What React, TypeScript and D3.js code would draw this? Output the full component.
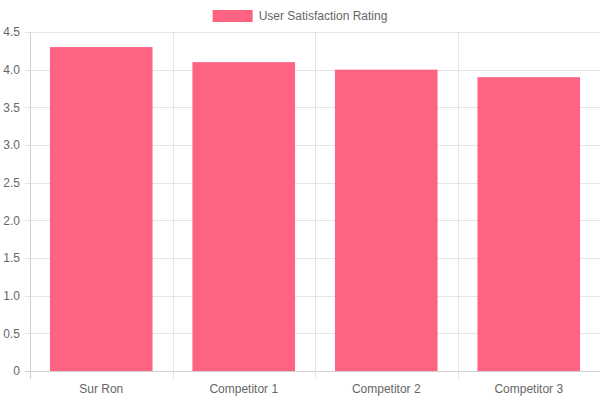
import React, { useEffect, useRef } from 'react';
import * as d3 from 'd3';

const categories = ['Sur Ron', 'Competitor 1', 'Competitor 2', 'Competitor 3'];
const ratings = [4.3, 4.1, 4.0, 3.9];
const yTicks = [0, 0.5, 1, 1.5, 2, 2.5, 3, 3.5, 4, 4.5];
const seriesName = 'User Satisfaction Rating';

const BarChart: React.FC = () => {
  const svgRef = useRef<SVGSVGElement>(null);

  useEffect(() => {
    if (!svgRef.current) return;
    document.body.style.margin = '0';

    const width = 600;
    const height = 400;
    const margin = { top: 32, right: 0, bottom: 29, left: 30 };
    const font = '"Liberation Sans", Arial, sans-serif';

    const svg = d3.select(svgRef.current)
      .attr('width', width)
      .attr('height', height)
      .style('display', 'block');

    svg.selectAll('*').remove();

    const x = d3.scaleBand<string>()
      .domain(categories)
      .range([margin.left, width - margin.right]);

    const y = d3.scaleLinear()
      .domain([0, 4.5])
      .range([height - margin.bottom, margin.top]);

    const grid = svg.append('g').attr('shape-rendering', 'crispEdges');

    // horizontal grid + tick marks
    grid.selectAll('.hline')
      .data(yTicks)
      .enter().append('line')
      .attr('x1', margin.left - 5)
      .attr('x2', width - margin.right)
      .attr('y1', d => Math.round(y(d)) + 0.5)
      .attr('y2', d => Math.round(y(d)) + 0.5)
      .style('stroke', d => (d === 0 ? '#d0d0d0' : '#e5e5e5'));

    // vertical grid lines at category boundaries
    const bounds = categories.map(c => x(c)!).concat([width - margin.right]);
    grid.selectAll('.vline')
      .data(bounds)
      .enter().append('line')
      .attr('x1', d => Math.round(d) + 0.5)
      .attr('x2', d => Math.round(d) + 0.5)
      .attr('y1', margin.top)
      .attr('y2', height - margin.bottom + 8)
      .style('stroke', (d, i) => (i === 0 ? '#d0d0d0' : '#e5e5e5'));

    // y labels
    svg.selectAll('.ylab')
      .data(yTicks)
      .enter().append('text')
      .attr('x', margin.left - 10)
      .attr('y', d => y(d))
      .attr('dy', '0.35em')
      .style('text-anchor', 'end')
      .style('font-family', font)
      .style('font-size', '12px')
      .style('fill', '#666')
      .text(d => (d === 0 ? '0' : d.toFixed(1)));

    // x labels
    svg.selectAll('.xlab')
      .data(categories)
      .enter().append('text')
      .attr('x', d => x(d)! + x.bandwidth() / 2)
      .attr('y', height - margin.bottom + 18)
      .attr('dy', '0.35em')
      .style('text-anchor', 'middle')
      .style('font-family', font)
      .style('font-size', '12px')
      .style('fill', '#666')
      .text(d => d);

    // bars
    const barW = x.bandwidth() * 0.72;
    svg.selectAll('.bar')
      .data(categories.map((c, i) => ({ c, v: ratings[i] })))
      .enter().append('rect')
      .attr('x', d => x(d.c)! + (x.bandwidth() - barW) / 2)
      .attr('width', barW)
      .attr('y', d => y(d.v))
      .attr('height', d => y(0) - y(d.v))
      .style('fill', '#ff6384');

    // legend
    const legendText = svg.append('text')
      .attr('y', 16)
      .attr('dy', '0.35em')
      .style('font-family', font)
      .style('font-size', '12px')
      .style('fill', '#666')
      .text(seriesName);
    const tw = (legendText.node() as SVGTextElement).getComputedTextLength();
    const total = 40 + 6 + tw;
    const lx = (width - total) / 2;
    svg.append('rect')
      .attr('x', lx)
      .attr('y', 10)
      .attr('width', 40)
      .attr('height', 12)
      .style('fill', '#ff6384');
    legendText.attr('x', lx + 46);
  }, []);

  return <svg ref={svgRef}></svg>;
};

export default function App() {
  return <BarChart />;
}
